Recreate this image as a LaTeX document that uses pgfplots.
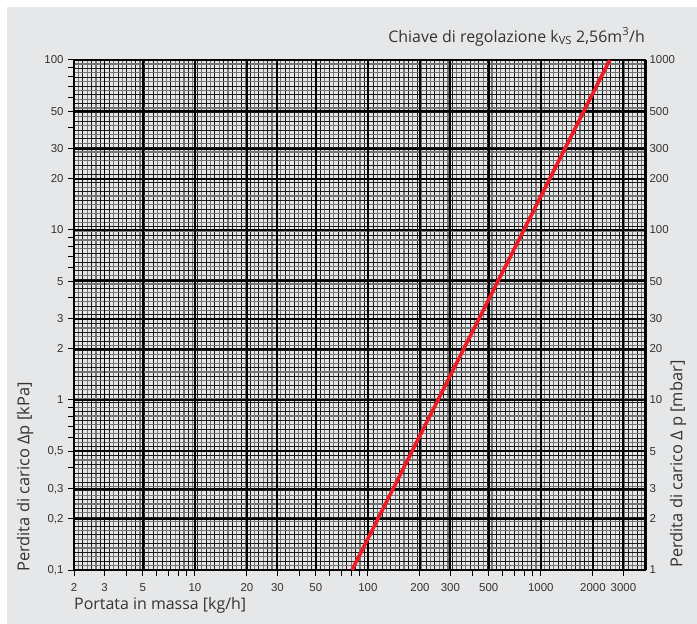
\documentclass[border=0pt]{standalone}
\usepackage{pgfplots}
\pgfplotsset{compat=1.18}
\usepackage{fontspec}
\setmainfont{Open Sans}
\newfontfamily\tickfont{Liberation Sans}
\definecolor{bg}{HTML}{E6E7E8}
\definecolor{redline}{HTML}{EE1C25}
\definecolor{txt}{HTML}{333333}
\begin{document}
\begin{tikzpicture}[x=1bp,y=1bp]
\fill[white] (0,0) rectangle (697,624);
\fill[bg] (7,0) rectangle (697,617);
% dense graph-paper grid (decoration)
\begin{axis}[at={(74bp,54bp)}, anchor=south west, scale only axis,
  width=571bp, height=510bp,
  xmin=0, xmax=571, ymin=0, ymax=510,
  xtick={0,8.8,...,571}, ytick={0,8.8,...,510},
  minor x tick num=1, minor y tick num=1,
  grid=both,
  major grid style={black!90, line width=0.9bp},
  minor grid style={black!55, line width=1.1bp},
  xticklabels={}, yticklabels={},
  major tick length=0, minor tick length=0,
  axis line style={draw=none}]
\end{axis}
% main log axis (kPa)
\begin{axis}[at={(74bp,54bp)}, anchor=south west, scale only axis,
  width=571bp, height=510bp,
  xmode=log, ymode=log,
  xmin=2, xmax=4000, ymin=0.1, ymax=100,
  xtick={2,3,5,10,20,30,50,100,200,300,500,1000,2000,3000},
  xticklabels={2,3,5,10,20,30,50,100,200,300,500,1000,2000,3000},
  minor xtick={4,6,7,8,9,40,60,70,80,90,400,600,700,800,900},
  ytick={0.1,0.2,0.3,0.5,1,2,3,5,10,20,30,50,100},
  yticklabels={{0,1},{0,2},{0,3},{0,5},1,2,3,5,10,20,30,50,100},
  minor ytick={0.4,0.6,0.7,0.8,0.9,4,6,7,8,9,40,60,70,80,90},
  xtick pos=bottom, ytick pos=left,
  tick align=outside,
  major tick length=6bp, minor tick length=6bp,
  tick style={black, line width=1bp},
  grid=major,
  major grid style={black, line width=1.9bp},
  axis line style={black, line width=1.5bp},
  tick label style={font=\tickfont\fontsize{11.5}{11.5}\selectfont, text=txt},
  yticklabel style={xshift=-1bp},
  xticklabel style={yshift=-4bp}]
\addplot[redline, line width=3.6bp] coordinates {(81,0.1) (2500,100)};
\end{axis}
% right axis (mbar)
\begin{axis}[at={(74bp,54bp)}, anchor=south west, scale only axis,
  width=571bp, height=510bp,
  xmode=log, ymode=log,
  xmin=2, xmax=4000, ymin=1, ymax=1000,
  axis x line=none, axis y line*=right,
  ytick={1,2,3,5,10,20,30,50,100,200,300,500,1000},
  yticklabels={1,2,3,5,10,20,30,50,100,200,300,500,1000},
  major tick length=0,
  axis line style={black, line width=3bp},
  tick label style={font=\tickfont\fontsize{11.5}{11.5}\selectfont, text=txt},
  yticklabel style={xshift=1bp}]
\end{axis}
\node[rotate=90, anchor=west, text=txt, font=\fontsize{16.5}{16.5}\selectfont, inner sep=0] at (25,52) {Perdita di carico Δp [kPa]};
\node[rotate=90, anchor=west, text=txt, font=\fontsize{16.5}{16.5}\selectfont, inner sep=0] at (678,56) {Perdita di carico Δ p [mbar]};
\node[anchor=west, text=txt, font=\fontsize{16}{16}\selectfont, inner sep=0] at (74,19) {Portata in massa [kg/h]};
\node[anchor=east, text=txt, font=\fontsize{16}{16}\selectfont, inner sep=0] at (645,587) {Chiave di regolazione k\textsubscript{VS} 2,56m\textsuperscript{3}/h};
\end{tikzpicture}
\end{document}
